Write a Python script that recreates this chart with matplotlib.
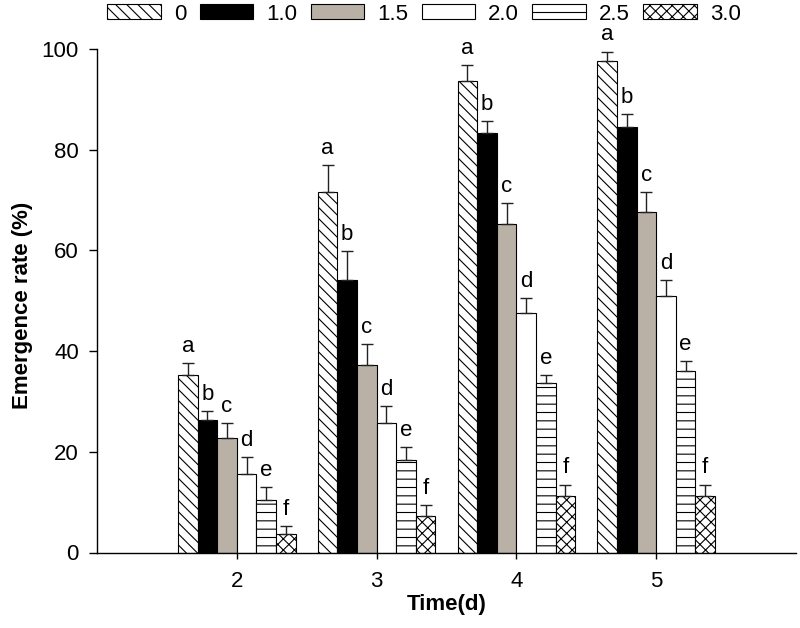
import matplotlib
matplotlib.use("Agg")
import matplotlib.pyplot as plt
import numpy as np
from matplotlib.patches import Patch

plt.rcParams['font.family'] = ['Liberation Sans', 'DejaVu Sans']
plt.rcParams['hatch.linewidth'] = 0.8

days = [2, 3, 4, 5]
series_labels = ["0", "1.0", "1.5", "2.0", "2.5", "3.0"]

mean_0 = [35.2, 71.6, 93.7, 97.7]
mean_10 = [26.4, 54.1, 83.3, 84.6]
mean_15 = [22.8, 37.3, 65.3, 67.6]
mean_20 = [15.5, 25.7, 47.6, 51.0]
mean_25 = [10.4, 18.4, 33.7, 36.0]
mean_30 = [3.6, 7.2, 11.2, 11.2]

se_0 = [2.4, 5.3, 3.2, 1.8]
se_10 = [1.7, 5.7, 2.4, 2.5]
se_15 = [2.9, 4.1, 4.1, 4.0]
se_20 = [3.4, 3.3, 2.9, 3.2]
se_25 = [2.6, 2.6, 1.6, 2.0]
se_30 = [1.6, 2.3, 2.3, 2.3]

letters = ["a", "b", "c", "d", "e", "f"]

means = [mean_0, mean_10, mean_15, mean_20, mean_25, mean_30]
ses = [se_0, se_10, se_15, se_20, se_25, se_30]

facecolors = ["white", "black", "#b9b1a6", "white", "white", "white"]
hatches = ["\\\\\\", None, None, None, "--", "xxx"]

fig = plt.figure(figsize=(8.0, 6.28), dpi=100)
ax = fig.add_axes([97/800, 1 - 552.5/628, (796-97)/800, (552.5-49)/628])

width = 0.14
x = np.array(days, dtype=float)
handles = []
for i, (m, s) in enumerate(zip(means, ses)):
    pos = x + (i - 2.5) * width
    ax.bar(pos, m, width=width, color=facecolors[i], edgecolor="black",
           linewidth=0.8, hatch=hatches[i], zorder=2)
    ax.errorbar(pos, m, yerr=[np.zeros(len(s)), s], fmt="none", ecolor="#222222",
                elinewidth=1.0, capsize=4.3, capthick=1.0, zorder=3)
    for px, mv, sv in zip(pos, m, s):
        ax.text(px, mv + sv + 2.2, letters[i], ha="center", va="baseline",
                fontsize=16, color="black")
    handles.append(Patch(facecolor=facecolors[i], edgecolor="black",
                         linewidth=0.8, hatch=hatches[i], label=series_labels[i]))

ax.set_xlim(1, 6)
ax.set_ylim(0, 100)
ax.set_xticks(days)
ax.set_xticklabels([str(d) for d in days])
ax.set_yticks([0, 20, 40, 60, 80, 100])
ax.spines['top'].set_visible(False)
ax.spines['right'].set_visible(False)
for sp in ['left', 'bottom']:
    ax.spines[sp].set_linewidth(1.0)
ax.tick_params(axis='y', direction='out', length=6, width=1.0, labelsize=16, pad=7)
ax.tick_params(axis='x', direction='out', length=4.3, width=1.0, labelsize=16, pad=9)

ax.set_ylabel("Emergence rate (%)", fontsize=16, fontweight="bold")
ax.yaxis.set_label_coords(-0.092, 0.49)
ax.set_xlabel("Time(d)", fontsize=16, fontweight="bold")
ax.xaxis.set_label_coords(0.5, -0.082)

fig.legend(handles=handles, loc="center", bbox_to_anchor=(424/800, 1 - 14/628),
           ncol=6, frameon=False, fontsize=16, handlelength=2.4, handleheight=0.62,
           handletextpad=0.6, columnspacing=0.6, borderpad=0.0)

fig.savefig("out.png", dpi=100)
